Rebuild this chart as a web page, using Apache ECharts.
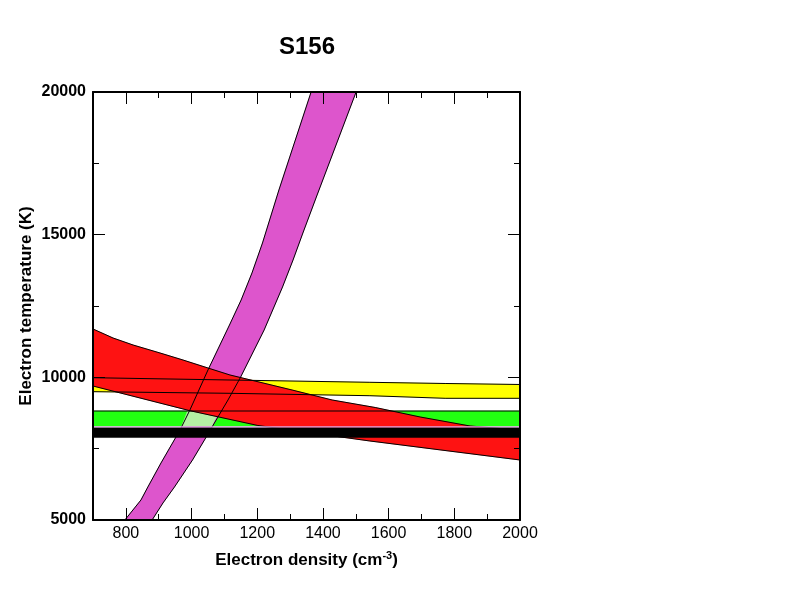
<!DOCTYPE html>
<html><head><meta charset="utf-8">
<script src="https://cdn.jsdelivr.net/npm/echarts@6/dist/echarts.min.js"></script>
<style>html,body{margin:0;padding:0;background:#fff}#c{width:792px;height:612px}</style>
</head><body><div id="c"></div>
<script>
// ---- tick labels ----
const xMajorTicks = [800, 1000, 1200, 1400, 1600, 1800, 2000];
const xMinorTicks = [900, 1100, 1300, 1500, 1700, 1900];
const yMajorTicks = [5000, 10000, 15000, 20000];
const yMinorTicks = [7500, 12500, 17500];

// ---- magenta band edges (density, temperature) ----
const magLeftN  = [797, 846, 867, 907, 965, 995, 1050, 1117, 1151, 1184, 1216, 1266, 1364];
const magLeftT  = [5000, 5701, 6156, 6998, 8154, 8855, 10257, 11869, 12710, 13657, 14708, 16565, 20000];
const magRightN = [880, 913, 948, 1003, 1043, 1075, 1111, 1148, 1221, 1251, 1277, 1309, 1339, 1380, 1501];
const magRightT = [5000, 5596, 6156, 7103, 7874, 8505, 9206, 9977, 11659, 12465, 13166, 14112, 15058, 16320, 20000];

// ---- red band ----
const redTopN = [700, 761, 822, 904, 974, 1050, 1117, 1306, 1428, 1559, 1696, 1848, 2000];
const redTopT = [11694, 11378, 11133, 10853, 10607, 10327, 10082, 9556, 9206, 8943, 8610, 8294, 8154];
const redLowN = [700, 995, 1202, 1543, 2000];
const redLowT = [9696, 8831, 8312, 7769, 7103];

// ---- yellow band ----
const yelN    = [700, 1117, 1543, 1772, 2000];
const yelTopT = [9987, 9906, 9826, 9784, 9749];
const yelLowT = [9497, 9440, 9356, 9265, 9265];

// ---- green band ----
const greenN    = [700, 2000];
const greenTopT = [8820, 8820];
const greenLowT = [8290, 8290];

// ---- overlap of green and magenta ----
const lgLeftN  = [970, 988];
const lgRightN = [1062, 1084];
const lgT      = [8290, 8820];

// ---- black band ----
const blackN    = [700, 2000];
const blackTopT = [8245, 8245];
const blackLowT = [7890, 7890];
const pinkT     = [8265, 8265];

function pts(ns, ts) { return ns.map((n, i) => [n, ts[i]]); }

function polySeries(poly, color, z) {
  return {
    type: 'custom', z: z, silent: true, data: poly,
    renderItem: function (params, api) {
      if (params.dataIndex !== 0) return null;
      return {
        type: 'polygon',
        shape: { points: poly.map(p => api.coord(p)) },
        style: { fill: color, stroke: color, lineWidth: 0.5 }
      };
    }
  };
}
function band(upper, lower, color, z) {
  return polySeries(upper.concat(lower.slice().reverse()), color, z);
}
function outline(data, color, z, w) {
  return {
    type: 'line', z: z, data: data, showSymbol: false, symbol: 'none', silent: true,
    lineStyle: { color: color || '#000', width: w || 1 }, animation: false
  };
}

const FONT = 'Liberation Sans, Arial, Helvetica, sans-serif';
const plain = v => String(v);

function xAx(pos, ticks, len, labels, line) {
  return {
    type: 'value', position: pos, min: 700, max: 2000, z: 20,
    axisLine: { show: line, onZero: false, lineStyle: { color: '#000', width: 2 } },
    axisTick: { show: true, inside: true, length: len, customValues: ticks, lineStyle: { color: '#000', width: 1 } },
    axisLabel: labels ? { show: true, customValues: ticks, formatter: plain, color: '#000', fontSize: 16, fontFamily: FONT, margin: 6 } : { show: false },
    splitLine: { show: false }
  };
}
function yAx(pos, ticks, len, labels, line) {
  return {
    type: 'value', position: pos, min: 5000, max: 20000, z: 20,
    axisLine: { show: line, onZero: false, lineStyle: { color: '#000', width: 2 } },
    axisTick: { show: true, inside: true, length: len, customValues: ticks, lineStyle: { color: '#000', width: 1 } },
    axisLabel: labels ? { show: true, customValues: ticks, formatter: plain, color: '#000', fontSize: 16, fontWeight: 'bold', fontFamily: FONT, margin: 7 } : { show: false },
    splitLine: { show: false }
  };
}

const xAxes = [
  xAx('bottom', xMajorTicks, 12, true, true),
  xAx('bottom', xMinorTicks, 6, false, false),
  xAx('top', xMajorTicks, 12, false, true),
  xAx('top', xMinorTicks, 6, false, false)
];
xAxes[0].name = '{t|Electron density (cm}{s|-3}{t|)}';
xAxes[0].nameLocation = 'middle';
xAxes[0].nameGap = 30;
xAxes[0].nameTextStyle = {
  rich: {
    t: { fontSize: 17, fontWeight: 'bold', color: '#000', fontFamily: FONT },
    s: { fontSize: 11, fontWeight: 'bold', color: '#000', fontFamily: FONT, padding: [0, 0, 9, 0] }
  }
};
const yAxes = [
  yAx('left', yMajorTicks, 12, true, true),
  yAx('left', yMinorTicks, 6, false, false),
  yAx('right', yMajorTicks, 12, false, true),
  yAx('right', yMinorTicks, 6, false, false)
];
yAxes[0].name = 'Electron temperature (K)';
yAxes[0].nameLocation = 'middle';
yAxes[0].nameGap = 58;
yAxes[0].nameMoveOverlap = false;
yAxes[0].nameTextStyle = { fontSize: 17, fontWeight: 'bold', color: '#000', fontFamily: FONT };

const magLeft = pts(magLeftN, magLeftT);
const magRight = pts(magRightN, magRightT);
const redTop = pts(redTopN, redTopT), redLow = pts(redLowN, redLowT);
const yelTop = pts(yelN, yelTopT), yelLow = pts(yelN, yelLowT);
const grTop = pts(greenN, greenTopT), grLow = pts(greenN, greenLowT);
const lgPoly = [[lgLeftN[0], lgT[0]], [lgLeftN[1], lgT[1]], [lgRightN[1], lgT[1]], [lgRightN[0], lgT[0]]];
const blTop = pts(blackN, blackTopT), blLow = pts(blackN, blackLowT);

const series = [
  band(yelTop, yelLow, '#ffff00', 2),
  band(grTop, grLow, '#22ff11', 3),
  polySeries(magLeft.concat(magRight.slice().reverse()), '#dd55cc', 4),
  polySeries(lgPoly, '#b4f0a4', 5),
  band(redTop, redLow, '#fe1212', 6),
  band(blTop, blLow, '#000000', 7),
  outline(yelTop, '#000', 8), outline(yelLow, '#000', 8),
  outline(grTop, '#000', 8),
  outline(magLeft, '#000', 8), outline(magRight, '#000', 8),
  outline(redTop, '#000', 8), outline(redLow, '#000', 8),
  outline(pts(blackN, pinkT), '#e2a8e6', 9, 1.2)
];

const chart = echarts.init(document.getElementById('c'), null, { renderer: 'canvas' });
chart.setOption({
  animation: false,
  backgroundColor: '#fff',
  title: { text: 'S156', left: 274, top: 30,
           textStyle: { fontSize: 24, fontWeight: 'bold', color: '#000', fontFamily: FONT } },
  grid: { left: 93, right: 272, top: 92, bottom: 92, containLabel: false },
  xAxis: xAxes,
  yAxis: yAxes,
  series: series
});
</script></body></html>
